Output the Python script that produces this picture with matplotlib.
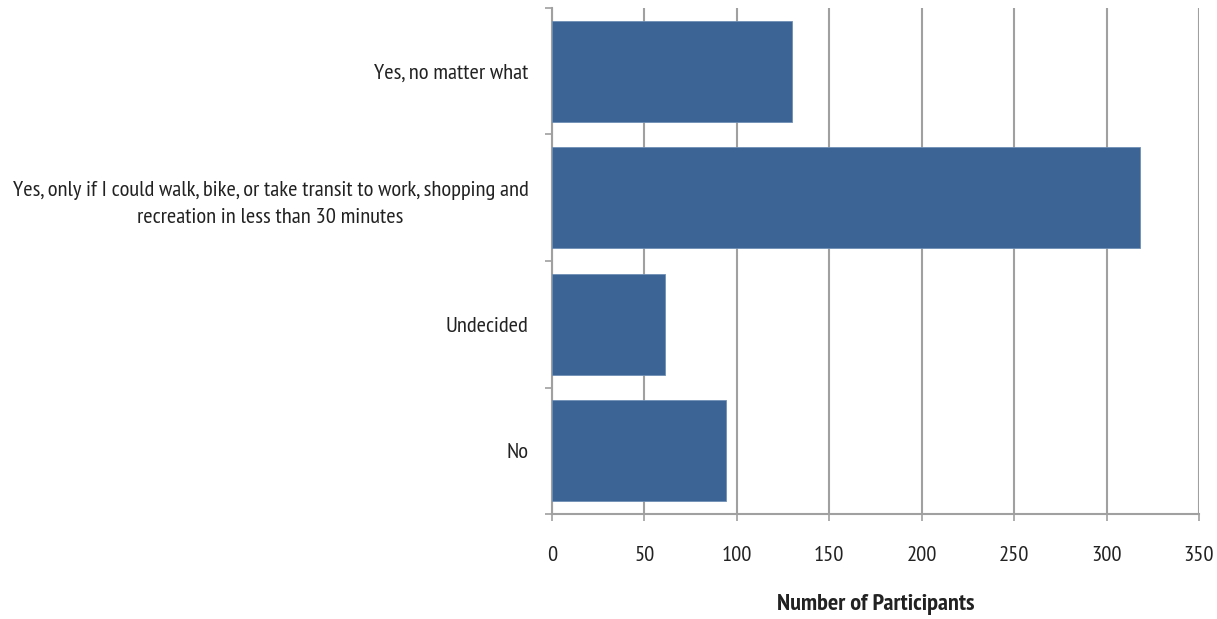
import matplotlib.pyplot as plt
import numpy as np

# survey answers, top to bottom
categories = [
    "Yes, no matter what",
    "Yes, only if I could walk, bike, or take transit to work, shopping and\nrecreation in less than 30 minutes",
    "Undecided",
    "No",
]
participants = [130, 318, 61, 94]
xticks = [0, 50, 100, 150, 200, 250, 300, 350]

plt.rcParams['font.family'] = ['PT Sans Narrow', 'Roboto Condensed', 'DejaVu Sans']

grey = '#a0a0a0'
fs = 16.2
fig = plt.figure(figsize=(12.17, 6.19), dpi=100)
ax = fig.add_axes([0.4536, 0.1696, 0.5316, 0.8175])

y = np.arange(len(categories))
ax.barh(y, participants, height=0.8, color='#3c6595', edgecolor='#6f8fb5', linewidth=0.6, zorder=3)

ax.set_xlim(0, 350)
ax.set_ylim(len(categories) - 0.5, -0.5)
ax.set_xticks(xticks)
ax.set_xticklabels([str(t) for t in xticks], fontsize=fs, color='#222222')
ax.set_yticks(y)
ax.set_yticklabels(categories, fontsize=fs, color='#222222', ha='right',
                   multialignment='center', linespacing=1.55)
ax.set_yticks(np.arange(-0.5, len(categories)), minor=True)

ax.tick_params(axis='y', which='major', length=0, pad=17)
ax.tick_params(axis='y', which='minor', length=5, width=1.2, color=grey, direction='out')
ax.tick_params(axis='x', length=5, width=1.2, color=grey, direction='out', pad=18)

ax.grid(axis='x', color=grey, linewidth=1.5, zorder=0)
for s in ['top', 'right']:
    ax.spines[s].set_visible(False)
for s in ['left', 'bottom']:
    ax.spines[s].set_color(grey)
    ax.spines[s].set_linewidth(1.5)

ax.set_xlabel("Number of Participants", fontsize=17.5, fontweight='bold', color='#222222', labelpad=21)

fig.savefig('out.png', dpi=100)
